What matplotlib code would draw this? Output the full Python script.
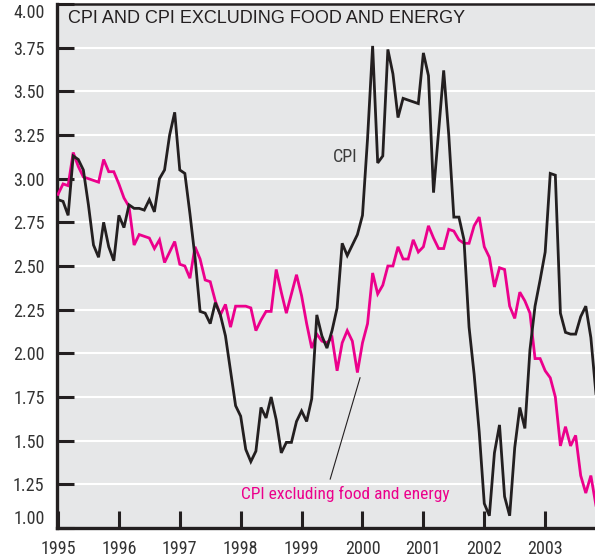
"""
plot.py
--------
CPI and CPI excluding food and energy, 12-month change, 1995-2003.
"""

import numpy as np
import matplotlib
matplotlib.use("Agg")
import matplotlib.pyplot as plt
from matplotlib import font_manager


# ----------------------------
# 1. Data (monthly, Jan 1995 - Nov 2003)
# ----------------------------
start_year = 1995

cpi = [
    2.88, 2.87, 2.79, 3.13, 3.11, 3.05, 2.85, 2.62, 2.55, 2.75, 2.61, 2.53,   # 1995
    2.79, 2.72, 2.85, 2.83, 2.83, 2.82, 2.88, 2.81, 3.00, 3.05, 3.25, 3.38,   # 1996
    3.05, 3.03, 2.80, 2.55, 2.24, 2.23, 2.17, 2.29, 2.22, 2.10, 1.90, 1.70,   # 1997
    1.64, 1.45, 1.38, 1.44, 1.69, 1.63, 1.75, 1.62, 1.43, 1.49, 1.49, 1.61,   # 1998
    1.67, 1.61, 1.74, 2.22, 2.10, 2.03, 2.13, 2.26, 2.63, 2.56, 2.62, 2.68,   # 1999
    2.79, 3.23, 3.76, 3.09, 3.13, 3.74, 3.60, 3.35, 3.46, 3.45, 3.44, 3.43,   # 2000
    3.72, 3.59, 2.92, 3.27, 3.62, 3.25, 2.78, 2.78, 2.65, 2.15, 1.88, 1.55,   # 2001
    1.14, 1.07, 1.43, 1.59, 1.18, 1.07, 1.46, 1.69, 1.57, 2.02, 2.27, 2.42,   # 2002
    2.58, 3.03, 3.02, 2.23, 2.12, 2.11, 2.11, 2.21, 2.27, 2.09, 1.77,         # 2003
]

core_cpi = [
    2.91, 2.97, 2.96, 3.15, 3.07, 3.01, 3.00, 2.99, 2.98, 3.11, 3.04, 3.04,   # 1995
    2.97, 2.89, 2.84, 2.62, 2.68, 2.67, 2.66, 2.60, 2.65, 2.52, 2.58, 2.64,   # 1996
    2.51, 2.50, 2.43, 2.61, 2.54, 2.42, 2.41, 2.30, 2.22, 2.28, 2.15, 2.27,   # 1997
    2.27, 2.27, 2.26, 2.13, 2.19, 2.24, 2.24, 2.48, 2.35, 2.23, 2.34, 2.45,   # 1998
    2.33, 2.17, 2.03, 2.11, 2.07, 2.06, 2.09, 1.90, 2.06, 2.13, 2.07, 1.89,   # 1999
    2.06, 2.17, 2.46, 2.34, 2.39, 2.50, 2.50, 2.61, 2.54, 2.54, 2.65, 2.58,   # 2000
    2.61, 2.73, 2.66, 2.60, 2.60, 2.71, 2.70, 2.65, 2.63, 2.63, 2.73, 2.78,   # 2001
    2.61, 2.55, 2.38, 2.49, 2.48, 2.27, 2.20, 2.35, 2.30, 2.23, 1.97, 1.97,   # 2002
    1.90, 1.86, 1.75, 1.47, 1.58, 1.47, 1.53, 1.30, 1.20, 1.30, 1.13,         # 2003
]

years = list(range(1995, 2004))
y_ticks = [1.00, 1.25, 1.50, 1.75, 2.00, 2.25, 2.50, 2.75, 3.00, 3.25, 3.50, 3.75, 4.00]

title = "CPI AND CPI EXCLUDING FOOD AND ENERGY"
cpi_label = "CPI"
core_label = "CPI excluding food and energy"

# decimal-year position of each month
t = start_year + np.arange(len(cpi)) / 12.0


# ----------------------------
# 2. Style
# ----------------------------
ink = "#231f20"
magenta = "#ec008c"
panel = "#e6e7e8"
plain = ["Liberation Sans", "DejaVu Sans"]

installed = {f.name for f in font_manager.fontManager.ttflist}
narrow_fp = font_manager.FontProperties(family=["DejaVu Sans"], stretch="condensed", size=13)
for name in ["Liberation Sans Narrow", "Roboto Condensed", "Open Sans Condensed"]:
    if name in installed:
        narrow_fp = font_manager.FontProperties(family=[name, "DejaVu Sans"], size=13)
        break
label_fp = narrow_fp.copy()
label_fp.set_size(12.5)


# ----------------------------
# 3. Plot
# ----------------------------
fig = plt.figure(figsize=(5.95, 5.59), dpi=100)
ax = fig.add_axes([0.0958, 0.0555, 0.9042, 0.9373])
ax.set_facecolor(panel)

for v in y_ticks[1:-1]:
    ax.axhline(v, color="white", lw=1.5, zorder=1)

ax.plot(t, core_cpi, color=magenta, lw=2.0, zorder=3, solid_joinstyle="miter")
ax.plot(t, cpi, color=ink, lw=2.0, zorder=4, solid_joinstyle="miter")

ax.set_xlim(1994.984, 2003.818)
ax.set_ylim(1.0, 4.0)

ax.set_xticks(years)
ax.set_xticklabels([str(y) for y in years], fontproperties=narrow_fp, color="#333333")
ax.set_yticks(y_ticks)
ax.set_yticklabels([f"{v:.2f}" for v in y_ticks], fontproperties=narrow_fp, color="#333333")
ax.tick_params(axis="both", direction="in", length=12, width=2.2, color=ink)
ax.tick_params(axis="y", pad=9)
ax.tick_params(axis="x", pad=9)

# end labels sit inside the axis range
ylabels = ax.get_yticklabels()
ylabels[0].set_verticalalignment("bottom")
ylabels[-1].set_verticalalignment("top")

for side in ["left", "bottom"]:
    ax.spines[side].set_linewidth(2.4)
    ax.spines[side].set_color(ink)
ax.spines["top"].set_linewidth(1.8)
ax.spines["top"].set_color(ink)
ax.spines["right"].set_visible(False)

# labels inside the panel
ax.text(0.021, 0.973, title, transform=ax.transAxes, ha="left", va="center",
        family=plain, fontsize=13, color=ink)
ax.text(1999.71, 3.125, cpi_label, ha="center", va="center",
        fontproperties=narrow_fp, color="#3b3b3b")
ax.text(1999.71, 1.195, core_label, ha="center", va="center",
        fontproperties=label_fp, color=magenta)
ax.plot([1999.47, 1999.96], [1.28, 1.86], color=ink, lw=0.8, zorder=5)

plt.savefig("out.png", dpi=100)
